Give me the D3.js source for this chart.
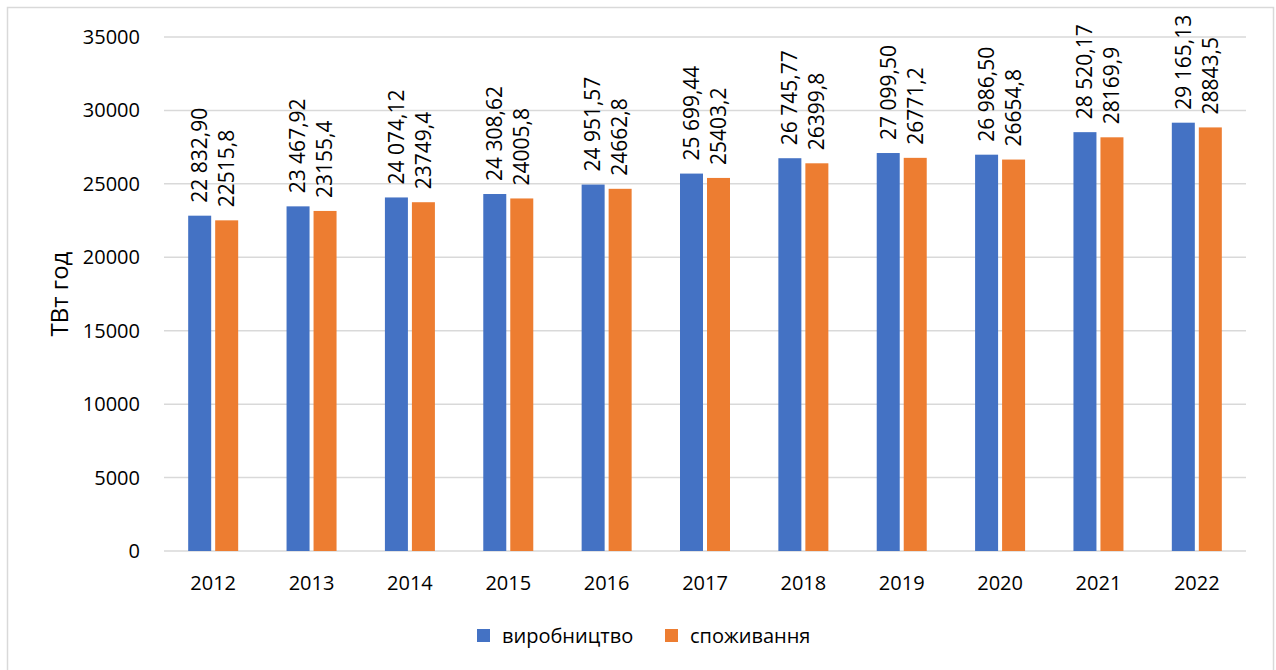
<!DOCTYPE html>
<html>
<head>
<meta charset="utf-8">
<script src="https://cdn.jsdelivr.net/npm/d3@7"></script>
<style>
  body { margin: 0; background: #fff; }
  svg { display: block; font-family: "Open Sans", sans-serif; }
</style>
</head>
<body>
<div id="chart"></div>
<script>
const years = ['2012', '2013', '2014', '2015', '2016', '2017', '2018', '2019', '2020', '2021', '2022']
const production = [22832.90, 23467.92, 24074.12, 24308.62, 24951.57, 25699.44, 26745.77, 27099.50, 26986.50, 28520.17, 29165.13]
const consumption = [22515.8, 23155.4, 23749.4, 24005.8, 24662.8, 25403.2, 26399.8, 26771.2, 26654.8, 28169.9, 28843.5]
const seriesNames = ['виробництво', 'споживання']
const yTicks = [0, 5000, 10000, 15000, 20000, 25000, 30000, 35000]

const width = 1276, height = 670
const margin = { left: 164, right: 30, top: 37, bottom: 119 }
const colors = ['#4472C4', '#ED7D31']

const svg = d3.select('#chart').append('svg')
    .attr('width', width)
    .attr('height', height)

// chart border
svg.append('rect')
    .attr('x', 7.5).attr('y', 7.5)
    .attr('width', 1266).attr('height', 700)
    .attr('fill', 'none')
    .attr('stroke', '#d9d9d9')
    .attr('stroke-width', 1.5)

const x = d3.scaleBand()
    .domain(years)
    .range([margin.left, width - margin.right])

const y = d3.scaleLinear()
    .domain([0, 35000])
    .range([height - margin.bottom, margin.top])

// gridlines
svg.append('g')
  .selectAll('line')
  .data(yTicks)
  .enter().append('line')
    .attr('x1', margin.left)
    .attr('x2', width - margin.right)
    .attr('y1', d => y(d))
    .attr('y2', d => y(d))
    .attr('stroke', '#d9d9d9')
    .attr('stroke-width', 1.5)

// y tick labels
svg.append('g')
  .selectAll('text')
  .data(yTicks)
  .enter().append('text')
    .attr('x', margin.left - 24)
    .attr('y', d => y(d))
    .attr('dy', '0.35em')
    .attr('text-anchor', 'end')
    .attr('font-size', 20)
    .attr('fill', '#000')
    .text(d => d)

// x tick labels
svg.append('g')
  .selectAll('text')
  .data(years)
  .enter().append('text')
    .attr('x', d => x(d) + x.bandwidth() / 2)
    .attr('y', y(0) + 32)
    .attr('dy', '0.35em')
    .attr('text-anchor', 'middle')
    .attr('font-size', 20)
    .attr('fill', '#000')
    .text(d => d)

// y axis title
svg.append('text')
    .attr('transform', `translate(60,${(y(0) + y(35000)) / 2}) rotate(-90)`)
    .attr('text-anchor', 'middle')
    .attr('dy', '0.35em')
    .attr('font-size', 24)
    .text('ТВт год')

const barW = 23
const barGap = 4
const series = [production, consumption]

const fmtProd = d3.formatLocale({ decimal: ',', thousands: '\u00a0', grouping: [3], currency: ['', ''] }).format(',.2f')
const fmtCons = d3.formatLocale({ decimal: ',', thousands: '', grouping: [3], currency: ['', ''] }).format('.1f')
const fmts = [fmtProd, fmtCons]

series.forEach((vals, si) => {
  const offset = si === 0 ? -barW - barGap / 2 : barGap / 2
  const rows = years.map((yr, i) => ({ yr, v: vals[i] }))
  const cx = d => x(d.yr) + x.bandwidth() / 2 + offset

  svg.append('g')
    .selectAll('rect')
    .data(rows)
    .enter().append('rect')
      .attr('x', d => cx(d))
      .attr('y', d => y(d.v))
      .attr('width', barW)
      .attr('height', d => y(0) - y(d.v))
      .attr('fill', colors[si])

  svg.append('g')
    .selectAll('text')
    .data(rows)
    .enter().append('text')
      .attr('transform', d => `translate(${cx(d) + barW / 2},${y(d.v) - 13}) rotate(-90)`)
      .attr('dy', '0.35em')
      .attr('text-anchor', 'start')
      .attr('font-size', 21)
      .attr('fill', '#000')
      .text(d => fmts[si](d.v))
})

// legend
const legendX = [477, 665]
seriesNames.forEach((name, i) => {
  svg.append('rect')
    .attr('x', legendX[i]).attr('y', 629)
    .attr('width', 13).attr('height', 13)
    .attr('fill', colors[i])
  svg.append('text')
    .attr('x', legendX[i] + 25).attr('y', 636)
    .attr('dy', '0.35em')
    .attr('font-size', 20)
    .text(name)
})
</script>
</body>
</html>
